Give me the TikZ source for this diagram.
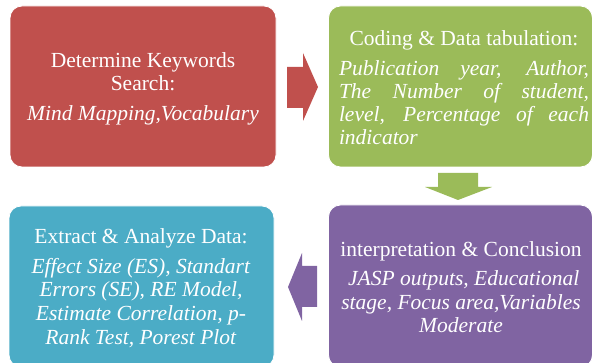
\documentclass[tikz,border=0pt]{standalone}
\usepackage{fontspec}
\setmainfont{Liberation Serif}
\definecolor{boxred}{HTML}{C0504D}
\definecolor{boxgreen}{HTML}{9BBB59}
\definecolor{boxcyan}{HTML}{4BACC6}
\definecolor{boxpurple}{HTML}{8064A2}
\begin{document}
\begin{tikzpicture}[x=1pt,y=-1pt,
  panel/.style={rounded corners=12pt, draw=white, line width=0.8pt, inner sep=0pt},
  label/.style={text=white, align=center, inner sep=0pt,
    font=\fontsize{21.5}{23}\selectfont}]
\useasboundingbox (0,0) rectangle (592,363);
\clip (0,0) rectangle (592,363);

% step panels
\node[panel, fill=boxred, minimum width=266pt, minimum height=161pt] (search) at (143,86.5) {};
\node[panel, fill=boxgreen, minimum width=264pt, minimum height=161pt] (coding) at (460.5,86.5) {};
\node[panel, fill=boxpurple, minimum width=264pt, minimum height=162pt] (interp) at (460.5,286) {};
\node[panel, fill=boxcyan, minimum width=265pt, minimum height=161pt] (extract) at (141.5,286.5) {};

% panel texts
\node[label] (searchtext) at (143,89) {Determine Keywords\\Search:\\[7pt]\textit{Mind Mapping,Vocabulary}};
\node[label] (codingtext) at (464,88) {Coding \& Data tabulation:\\[7pt]
  \textit{\makebox[250pt][s]{Publication year, Author,}}\\
  \textit{\makebox[250pt][s]{The Number of student,}}\\
  \textit{\makebox[250pt][s]{level, Percentage of each}}\\
  \textit{\makebox[250pt][l]{indicator}}};
\node[label] (interptext) at (461,287.5) {interpretation \& Conclusion\\[6pt]
  \textit{\ JASP outputs, Educational}\\[0.6pt]
  \textit{stage, Focus area,Variables}\\[0.6pt]
  \textit{Moderate}};
\node[label] (extracttext) at (141,288) {Extract \& Analyze Data:\\[7pt]
  \textit{Effect Size (ES), Standart}\\[0.8pt]
  \textit{Errors (SE), RE Model,}\\[0.8pt]
  \textit{Estimate Correlation, p-}\\[0.8pt]
  \textit{Rank Test, Porest Plot}};

% block arrows between the panels
\fill[boxred] (287,67) -- (303,67) -- (303,53) -- (318,87) -- (303,121) -- (303,108) -- (287,108) -- cycle;
\fill[boxgreen] (438,173) -- (478,173) -- (478,187) -- (492,187) -- (458,200) -- (425,187) -- (438,187) -- cycle;
\fill[boxpurple] (317,266) -- (302,266) -- (302,253) -- (288,287) -- (302,321) -- (302,307) -- (317,307) -- cycle;
\end{tikzpicture}
\end{document}
